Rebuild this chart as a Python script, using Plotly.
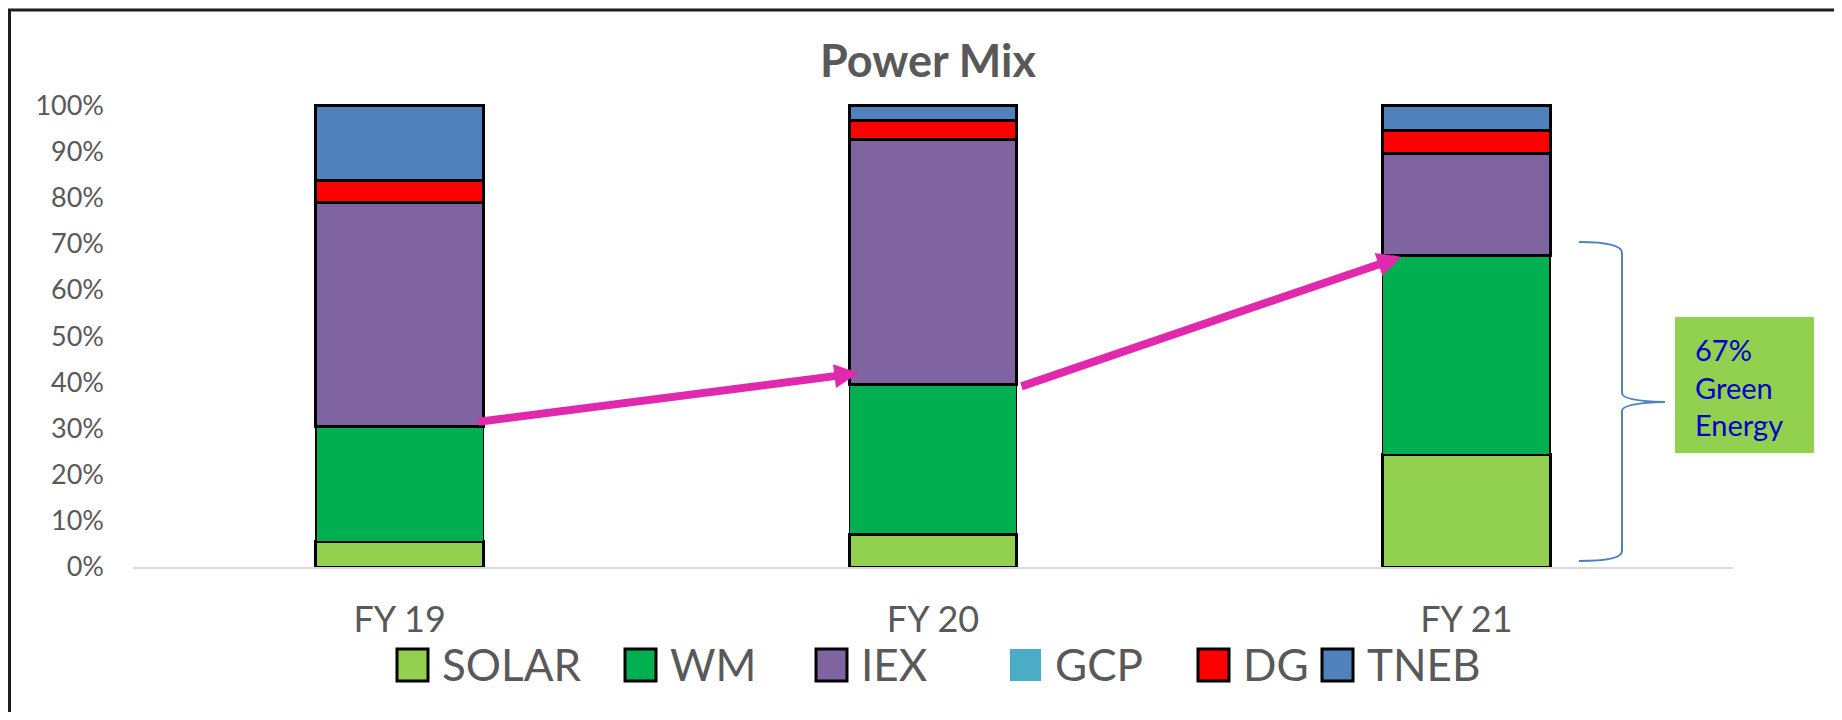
import plotly.graph_objects as go

# ---------------- data ----------------
categories = ["FY 19", "FY 20", "FY 21"]
series_names = ["SOLAR", "WM", "IEX", "GCP", "DG", "TNEB"]
solar = [5.5, 7.1, 24.4]
wm = [25.0, 32.4, 43.0]
iex = [48.5, 53.1, 22.2]
gcp = [0.0, 0.0, 0.0]
dg = [4.8, 4.0, 4.9]
tneb = [16.2, 3.4, 5.5]
series_values = [solar, wm, iex, gcp, dg, tneb]
y_ticks = [0, 10, 20, 30, 40, 50, 60, 70, 80, 90, 100]
y_tick_labels = [f"{v}%" for v in y_ticks]
title_text = "Power Mix"
green_label = "67%<br>Green<br>Energy"

# ---------------- styles / layout constants ----------------
colors = ["#92D050", "#00B050", "#8064A2", "#4BACC6", "#FF0000", "#4F81BD"]
outline_w = [3, 1.5, 3, 0, 3, 3]
W, H = 1842, 720
OFF = 8                 # default page body margin
FW, FH = W - 2 * OFF, H - 2 * OFF
PL, PR = 133, 1733      # plot area left/right (window px)
PT, PB = 96, 567        # plot area top / baseline (window px)
YMAX = 102
BW = 0.314
GRAY = "#595959"
MAGENTA = "#E029AD"
FONT = "Lato"

def px2x(px):
    return (px - PL) / (PR - PL)

def py2y(py):
    return (PB - py) / (PB - PT)

def P(px, py):
    return f"{px2x(px):.5f},{py2y(py):.5f}"

xpos = list(range(len(categories)))

fig = go.Figure()
for name, vals, col, lw in zip(series_names, series_values, colors, outline_w):
    fig.add_trace(go.Bar(
        x=xpos, y=vals, name=name, width=BW,
        marker=dict(color=col, line=dict(color="black", width=lw)),
        showlegend=False,
    ))

green_total = [s + w for s, w in zip(solar, wm)]

annotations = []
# arrows showing green-energy growth
annotations.append(dict(
    x=1 - BW / 2 + 0.017, y=green_total[1] + 2.5,
    ax=0 + BW / 2 - 0.012, ay=green_total[0] + 0.9,
    xref="x", yref="y", axref="x", ayref="y",
    showarrow=True, arrowhead=2, arrowsize=0.6, arrowwidth=8,
    arrowcolor=MAGENTA, text="", standoff=0,
))
annotations.append(dict(
    x=2 - BW / 2 + 0.035, y=green_total[2] - 0.2,
    ax=1 + BW / 2 + 0.006, ay=green_total[1] - 0.5,
    xref="x", yref="y", axref="x", ayref="y",
    showarrow=True, arrowhead=2, arrowsize=0.6, arrowwidth=8,
    arrowcolor=MAGENTA, text="", standoff=0,
))

# green energy label
annotations.append(dict(
    x=px2x(1693), y=py2y(387), xref="paper", yref="paper",
    xanchor="left", yanchor="middle", align="left", showarrow=False,
    text=green_label, font=dict(family=FONT, size=29, color="#0000C8"),
))

shapes = []
# outer border
shapes.append(dict(type="line", xref="paper", yref="paper",
                   x0=px2x(9.5), x1=px2x(9.5), y0=py2y(9), y1=py2y(730),
                   line=dict(color="#1E1E1E", width=3)))
shapes.append(dict(type="line", xref="paper", yref="paper",
                   x0=px2x(8), x1=px2x(1850), y0=py2y(10), y1=py2y(10),
                   line=dict(color="#1E1E1E", width=3)))
# green box
shapes.append(dict(type="rect", xref="paper", yref="paper",
                   x0=px2x(1675), x1=px2x(1814), y0=py2y(453), y1=py2y(317),
                   fillcolor="#92D050", line=dict(width=0), layer="below"))
# curly brace
brace = (f"M {P(1579,242)} Q {P(1622,242)} {P(1622,253)} L {P(1622,393)} "
         f"Q {P(1622,401)} {P(1665,402)} Q {P(1622,403)} {P(1622,411)} "
         f"L {P(1622,551)} Q {P(1622,561)} {P(1579,561)}")
shapes.append(dict(type="path", xref="paper", yref="paper", path=brace,
                   line=dict(color="#4F81BD", width=2)))

# manual legend (large square swatches like the original)
legend_left = [397, 625, 816, 1010, 1198, 1322]
for name, col, lw, lx in zip(series_names, colors, outline_w, legend_left):
    shapes.append(dict(type="rect", xref="paper", yref="paper",
                       x0=px2x(lx), x1=px2x(lx + 31), y0=py2y(681), y1=py2y(649),
                       fillcolor=col,
                       line=dict(color="black", width=3 if lw > 0 else 0)))
    annotations.append(dict(
        x=px2x(lx + 43), y=py2y(664), xref="paper", yref="paper",
        xanchor="left", yanchor="middle", showarrow=False, text=name,
        font=dict(family=FONT, size=44, color=GRAY),
    ))

fig.update_layout(
    width=FW, height=FH,
    margin=dict(l=PL - OFF, r=W - OFF - PR, t=PT - OFF, b=H - OFF - PB, pad=0),
    barmode="stack",
    paper_bgcolor="white", plot_bgcolor="white",
    title=dict(text=f"<b>{title_text}</b>", x=px2x(928), xref="paper",
               y=1 - (61 - OFF) / FH, yref="container", xanchor="center",
               yanchor="middle",
               font=dict(family=FONT, size=45, color=GRAY)),
    xaxis=dict(range=[-0.5, 2.5], tickvals=xpos, ticktext=categories,
               showgrid=False, zeroline=False, showline=True,
               linecolor="#D9D9D9", linewidth=2, ticks="",
               ticklabelstandoff=20,
               tickfont=dict(family=FONT, size=36, color=GRAY)),
    yaxis=dict(range=[0, YMAX], tickmode="array", tickvals=y_ticks,
               ticktext=y_tick_labels,
               showgrid=False, zeroline=False, showline=False, ticks="",
               ticklabelstandoff=28,
               tickfont=dict(family=FONT, size=27, color=GRAY)),
    annotations=annotations,
    shapes=shapes,
    showlegend=False,
)

fig.write_html("out.html")
